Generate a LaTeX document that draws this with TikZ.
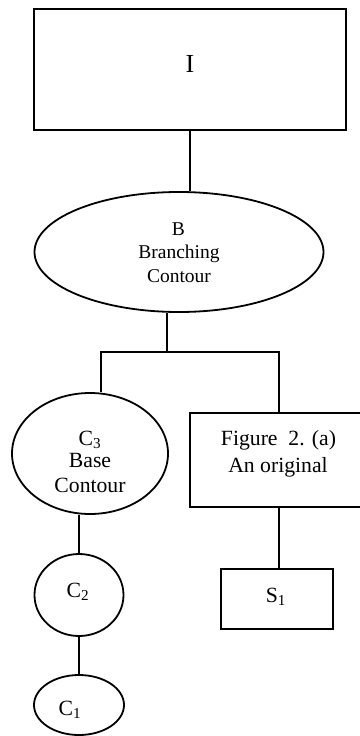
\documentclass[tikz,border=0pt]{standalone}
\usepackage{fontspec}
\setmainfont{Liberation Serif}
\usetikzlibrary{shapes.geometric}
\begin{document}
\begin{tikzpicture}[x=1pt,y=-1pt,line width=1.8pt,
  box/.style={draw,rectangle,inner sep=0pt,line width=1.8pt},
  oval/.style={draw,ellipse,inner sep=0pt,line width=1.8pt},
  lbl/.style={anchor=base,inner sep=0pt,font=\fontsize{21.7}{24}\selectfont},
  lblsmall/.style={anchor=base,inner sep=0pt,font=\fontsize{19.5}{22}\selectfont},
  lblbig/.style={anchor=base,inner sep=0pt,font=\fontsize{26}{28}\selectfont}]
\useasboundingbox (0,0) rectangle (359,736);
% shapes
\node[box,minimum width=312pt,minimum height=121pt] (I) at (190,69.5) {};
\node[oval,minimum width=289pt,minimum height=120pt] (B) at (179,252) {};
\node[oval,minimum width=156pt,minimum height=121pt] (C3) at (90,453.5) {};
\node[box,minimum width=178pt,minimum height=94pt] (F) at (279,460) {};
\node[box,minimum width=112pt,minimum height=60pt] (S1) at (277,599) {};
\node[oval,minimum width=89pt,minimum height=82pt] (C2) at (79,595) {};
\node[oval,minimum width=90pt,minimum height=60pt] (C1) at (79,705) {};
% labels
\node[lblbig] (tI) at (190,72) {I};
\node[lblsmall] (tB1) at (178.5,235) {B};
\node[lblsmall] (tB2) at (179,258.5) {Branching};
\node[lblsmall] (tB3) at (179,282) {Contour};
\node[lbl] (tC31) at (90,445) {C\textsubscript{3}};
\node[lbl] (tC32) at (90,467) {Base};
\node[lbl] (tC33) at (90,492) {Contour};
\node[lbl] (tF1) at (278.5,445) {Figure\ \ 2. (a)};
\node[lbl] (tF2) at (278,472) {An original};
\node[lbl] (tS1) at (276,602) {S\textsubscript{1}};
\node[lbl] (tC2) at (78,597) {C\textsubscript{2}};
\node[lbl] (tC1) at (70,715) {C\textsubscript{1}};
% connectors
\coordinate (fork) at (167,352);
\coordinate (fl) at (101,352);
\coordinate (fr) at (279,352);
\draw (I.south) -- (I.south |- B.north);
\draw (fork |- B.south) -- (fork);
\draw (C3.north -| fl) -- (fl) -- (fr) -- (F.north);
\draw (F.south) -- (F.south |- S1.north);
\draw (C3.south -| C2.north) -- (C2.north);
\draw (C2.south) -- (C1.north);
\end{tikzpicture}
\end{document}
